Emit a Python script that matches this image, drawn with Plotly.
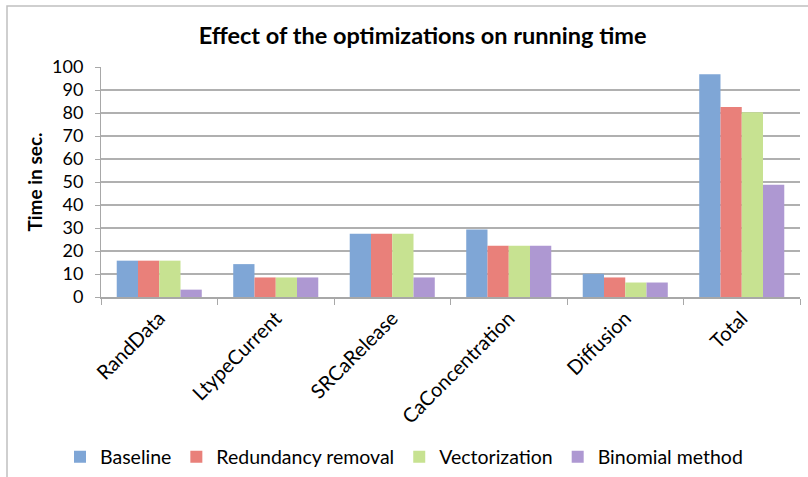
import plotly.graph_objects as go

categories = ["RandData", "LtypeCurrent", "SRCaRelease", "CaConcentration", "Diffusion", "Total"]
baseline = [15.8, 14.3, 27.5, 29.3, 10.1, 96.8]
redundancy = [15.8, 8.5, 27.5, 22.3, 8.5, 82.6]
vectorization = [15.8, 8.5, 27.5, 22.3, 6.3, 80.3]
binomial = [3.2, 8.5, 8.5, 22.3, 6.3, 48.8]
series_names = ["Baseline", "Redundancy removal", "Vectorization", "Binomial method"]
series_colors = ["#7fa6d6", "#e9807a", "#c7e291", "#ae98d2"]
y_ticks = list(range(0, 101, 10))

FONT = "Lato"
L, R, T, B = 101, 8, 67, 180
PW, PH = 808 - L - R, 477 - T - B

fig = go.Figure()
for name, vals, col in zip(series_names, [baseline, redundancy, vectorization, binomial], series_colors):
    fig.add_trace(go.Bar(x=categories, y=vals, name=name, marker=dict(color=col, line=dict(width=0))))

fig.update_layout(
    width=808, height=477,
    margin=dict(l=L, r=R, t=T, b=B, autoexpand=False),
    paper_bgcolor="white", plot_bgcolor="white",
    barmode="group", bargap=0.27, bargroupgap=0,
    font=dict(family=FONT, size=16, color="#000000"),
    title=dict(text="<b>Effect of the optimizations on running time</b>", x=0.523, xanchor="center",
               y=1 - 36 / 477, yanchor="middle", font=dict(family=FONT, size=23.5, color="#000000")),
    legend=dict(orientation="h", x=0.5, xanchor="center", xref="container",
                y=1 - 457 / 477, yanchor="middle", yref="container",
                font=dict(family=FONT, size=19.5), itemwidth=30, traceorder="normal"),
    shapes=[dict(type="rect", xref="paper", yref="paper",
                 x0=(7 - L) / PW, x1=(830 - L) / PW,
                 y0=(T + PH - 500) / PH, y1=(T + PH - 6) / PH,
                 line=dict(color="#c0c0c0", width=1.5), fillcolor="rgba(0,0,0,0)", layer="below")],
)
fig.update_yaxes(range=[0, 100], tickvals=y_ticks, showgrid=True, gridcolor="#b0b0b0", gridwidth=1.6,
                 showline=True, linecolor="#a8a8a8", linewidth=1, ticks="outside", ticklen=5,
                 tickcolor="#a8a8a8", tickfont=dict(size=18), zeroline=False, automargin=False,
                 ticklabelstandoff=8,
                 title=dict(text="<b>Time in sec.</b>", font=dict(size=19), standoff=4))
fig.update_xaxes(showline=True, linecolor="#a8a8a8", linewidth=1.5, ticks="outside", ticklen=6,
                 tickcolor="#a8a8a8", tickson="boundaries", tickangle=-45, tickfont=dict(size=20),
                 showgrid=False, automargin=False)

fig.write_html("out.html", config={"displayModeBar": False},
               post_script="document.body.style.margin='0';document.body.style.overflow='hidden';")
